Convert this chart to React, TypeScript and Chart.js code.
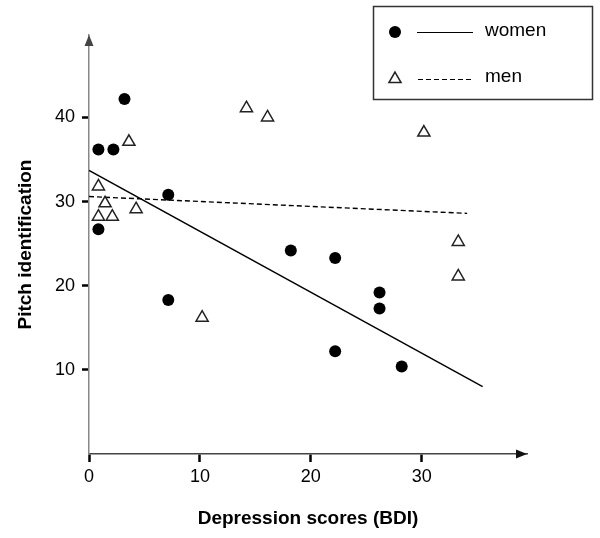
import React, { useEffect, useRef } from "react";
import { Chart, registerables } from "chart.js";

Chart.register(...registerables);

const womenX = [0.85, 2.2, 3.2, 0.85, 7.15, 7.15, 18.2, 22.2, 26.2, 26.2, 22.2, 28.2];
const womenY = [36.2, 36.2, 42.2, 26.7, 30.8, 18.3, 24.2, 23.3, 19.2, 17.3, 12.2, 10.4];
const menX = [3.6, 0.85, 1.45, 0.85, 2.1, 4.25, 10.2, 14.2, 16.1, 30.2, 33.3, 33.3];
const menY = [37.1, 31.8, 29.8, 28.2, 28.2, 29.1, 16.2, 41.1, 40.0, 38.2, 25.2, 21.1];
const womenFitX = [0, 35.5];
const womenFitY = [33.7, 8.0];
const menFitX = [0, 34.1];
const menFitY = [30.6, 28.6];
const xTicks = [0, 10, 20, 30];
const yTicks = [10, 20, 30, 40];
const legendLabels = ["women", "men"];
const xTitle = "Depression scores (BDI)";
const yTitle = "Pitch identification";

const FONT = "'Liberation Sans', Arial, Helvetica, sans-serif";

const toPts = (xs: number[], ys: number[]) => xs.map((x, i) => ({ x, y: ys[i] }));

const decorPlugin = {
  id: "decor",
  afterDraw(chart: any) {
    const ctx = chart.ctx;
    const a = chart.chartArea;
    ctx.save();
    // y arrow
    ctx.fillStyle = "#444";
    ctx.beginPath();
    ctx.moveTo(a.left, a.top);
    ctx.lineTo(a.left - 4.5, a.top + 11);
    ctx.lineTo(a.left + 4.5, a.top + 11);
    ctx.closePath();
    ctx.fill();
    // x arrow
    ctx.fillStyle = "#111";
    ctx.beginPath();
    ctx.moveTo(a.right, a.bottom);
    ctx.lineTo(a.right - 11, a.bottom - 4.5);
    ctx.lineTo(a.right - 11, a.bottom + 4.5);
    ctx.closePath();
    ctx.fill();

    // legend box
    ctx.strokeStyle = "#333";
    ctx.lineWidth = 1.5;
    ctx.strokeRect(373.5, 6.5, 219, 93);
    // women
    ctx.fillStyle = "#000";
    ctx.beginPath();
    ctx.arc(395, 32, 6, 0, Math.PI * 2);
    ctx.fill();
    ctx.strokeStyle = "#000";
    ctx.lineWidth = 1.2;
    ctx.setLineDash([]);
    ctx.beginPath();
    ctx.moveTo(417, 32.5);
    ctx.lineTo(473, 32.5);
    ctx.stroke();
    // men triangle
    const r = 7;
    const cx = 395, cy = 79;
    ctx.fillStyle = "#fff";
    ctx.strokeStyle = "#222";
    ctx.lineWidth = 1.5;
    ctx.beginPath();
    ctx.moveTo(cx, cy - r);
    ctx.lineTo(cx + Math.sin((2 * Math.PI) / 3) * r, cy - Math.cos((2 * Math.PI) / 3) * r);
    ctx.lineTo(cx + Math.sin((4 * Math.PI) / 3) * r, cy - Math.cos((4 * Math.PI) / 3) * r);
    ctx.closePath();
    ctx.fill();
    ctx.stroke();
    ctx.strokeStyle = "#000";
    ctx.setLineDash([5, 3]);
    ctx.lineWidth = 1.2;
    ctx.beginPath();
    ctx.moveTo(418, 79.5);
    ctx.lineTo(473, 79.5);
    ctx.stroke();
    ctx.setLineDash([]);
    ctx.fillStyle = "#000";
    ctx.font = `19px ${FONT}`;
    ctx.textBaseline = "middle";
    ctx.textAlign = "left";
    ctx.fillText(legendLabels[0], 485, 31);
    ctx.fillText(legendLabels[1], 485, 77);
    ctx.restore();
  },
};

export default function App() {
  const ref = useRef<HTMLCanvasElement | null>(null);
  useEffect(() => {
    if (!ref.current) return;
    const chart = new Chart(ref.current, {
      type: "scatter",
      data: {
        datasets: [
          {
            label: "women",
            data: toPts(womenX, womenY),
            pointStyle: "circle",
            pointRadius: 6,
            backgroundColor: "#000",
            borderWidth: 0,
          },
          {
            label: "men",
            data: toPts(menX, menY),
            pointStyle: "triangle",
            pointRadius: 7,
            backgroundColor: "#fff",
            borderColor: "#222",
            borderWidth: 1.5,
          },
          {
            label: "women fit",
            type: "line",
            data: toPts(womenFitX, womenFitY),
            showLine: true,
            pointRadius: 0,
            borderColor: "#000",
            borderWidth: 1.4,
            fill: false,
          },
          {
            label: "men fit",
            type: "line",
            data: toPts(menFitX, menFitY),
            showLine: true,
            pointRadius: 0,
            borderColor: "#000",
            borderWidth: 1.4,
            borderDash: [5, 3],
            fill: false,
          },
        ],
      } as any,
      options: {
        animation: false,
        responsive: false,
        events: [],
        layout: { padding: { top: 35, right: 73, left: 0, bottom: 0 } },
        plugins: { legend: { display: false }, tooltip: { enabled: false } },
        scales: {
          x: {
            type: "linear",
            min: 0,
            max: 39.5,
            afterBuildTicks: (s: any) => {
              s.ticks = xTicks.map((v) => ({ value: v }));
            },
            afterFit: (s: any) => {
              s.height = 84;
            },
            grid: {
              drawOnChartArea: false,
              drawTicks: true,
              tickLength: 8,
              tickWidth: 2.5,
              tickColor: "#000",
            },
            border: { display: true, color: "#444", width: 1.5 },
            ticks: {
              color: "#000",
              font: { family: FONT, size: 18 },
              padding: 4,
              maxRotation: 0,
            },
            title: {
              display: true,
              text: xTitle,
              color: "#000",
              font: { family: FONT, size: 19, weight: "bold" },
              padding: { top: 0, bottom: 8 },
            },
          },
          y: {
            type: "linear",
            min: 0,
            max: 49.8,
            afterBuildTicks: (s: any) => {
              s.ticks = yTicks.map((v) => ({ value: v }));
            },
            afterFit: (s: any) => {
              s.width = 89;
            },
            grid: {
              drawOnChartArea: false,
              drawTicks: true,
              tickLength: 7,
              tickWidth: 2.5,
              tickColor: "#000",
            },
            border: { display: true, color: "#888", width: 1.5 },
            ticks: {
              color: "#000",
              font: { family: FONT, size: 18 },
              padding: 7,
            },
            title: {
              display: true,
              text: yTitle,
              color: "#000",
              font: { family: FONT, size: 19, weight: "bold" },
              padding: { top: 14, bottom: 0 },
            },
          },
        },
      } as any,
      plugins: [decorPlugin],
    });
    return () => chart.destroy();
  }, []);
  return (
    <div style={{ position: "fixed", left: 0, top: 0, width: 600, height: 538, background: "#fff" }}>
      <canvas ref={ref} width={600} height={538} style={{ display: "block" }} />
    </div>
  );
}
